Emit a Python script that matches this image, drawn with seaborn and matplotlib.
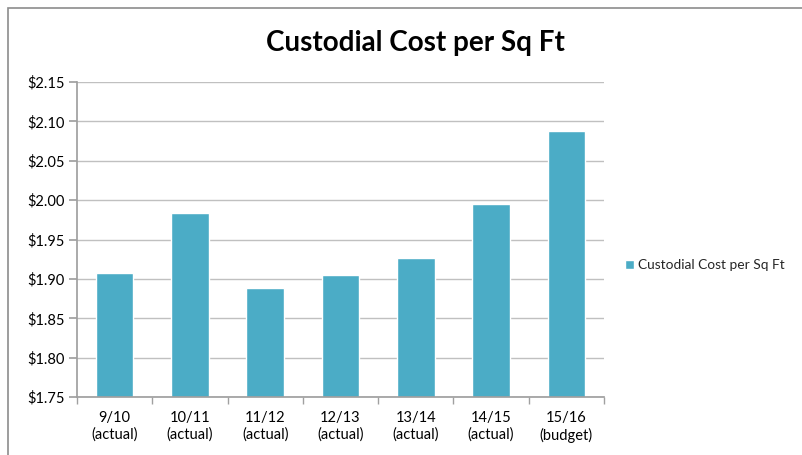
import matplotlib
matplotlib.use("Agg")
import matplotlib.pyplot as plt
import seaborn as sns
import pandas as pd
from matplotlib.patches import Rectangle
from matplotlib.ticker import FuncFormatter, MultipleLocator

categories = ["9/10\n(actual)", "10/11\n(actual)", "11/12\n(actual)", "12/13\n(actual)",
              "13/14\n(actual)", "14/15\n(actual)", "15/16\n(budget)"]
values = [1.908, 1.984, 1.889, 1.905, 1.927, 1.995, 2.088]
series_name = "Custodial Cost per Sq Ft"

sns.set_theme(style="white")
plt.rcParams['font.family'] = ['Lato', 'DejaVu Sans']

df = pd.DataFrame({"cat": categories, "val": values, "series": series_name})

fig = plt.figure(figsize=(8.02, 4.55), dpi=100)
ax = fig.add_axes([77/802, 1-397/455, (604-77)/802, (397-82)/455])

sns.barplot(data=df, x="cat", y="val", hue="series", palette=["#4BACC6"],
            width=0.5, ax=ax, saturation=1, legend=True)

ax.set_ylim(1.75, 2.15)
ax.set_xlim(-0.5, len(categories) - 0.5)
ax.yaxis.set_major_locator(MultipleLocator(0.05))
ax.yaxis.set_major_formatter(FuncFormatter(lambda v, p: f"${v:.2f}"))
ax.grid(axis="y", color="#C0C0C0", linewidth=1)
ax.set_axisbelow(True)
ax.set_xlabel("")
ax.set_ylabel("")
for s in ["top", "right"]:
    ax.spines[s].set_visible(False)
ax.spines["left"].set_color("#A0A0A0")
ax.spines["bottom"].set_color("#A0A0A0")
ax.tick_params(axis="y", labelsize=10.5, colors="#000000", length=6, color="#A0A0A0", left=True, pad=3)
ax.tick_params(axis="x", labelsize=10.5, colors="#000000", length=0, pad=10)
# category-boundary ticks on x axis
ax.set_xticks(range(len(categories)))
ax.set_xticks([i - 0.5 for i in range(len(categories) + 1)], minor=True)
ax.tick_params(axis="x", which="minor", length=5, color="#A0A0A0", bottom=True)
for t in ax.get_xticklabels():
    t.set_linespacing(1.25)

leg = ax.legend(loc="center left", bbox_to_anchor=(622/802, 1-265/455),
                bbox_transform=fig.transFigure, frameon=False, fontsize=9.9,
                handlelength=0.65, handleheight=0.65, handletextpad=0.35,
                borderpad=0.2, borderaxespad=0)

fig.text((258+572)/2/802, 1-43/455, "Custodial Cost per Sq Ft", ha="center", va="center",
         fontsize=20, fontweight="bold", color="#000000")

fig.patches.append(Rectangle((8/802, -0.01), 1.0, 1 - 8/455 + 0.01, transform=fig.transFigure,
                             fill=False, edgecolor="#8C8C8C", linewidth=1.2))

fig.savefig("out.png", dpi=100)
